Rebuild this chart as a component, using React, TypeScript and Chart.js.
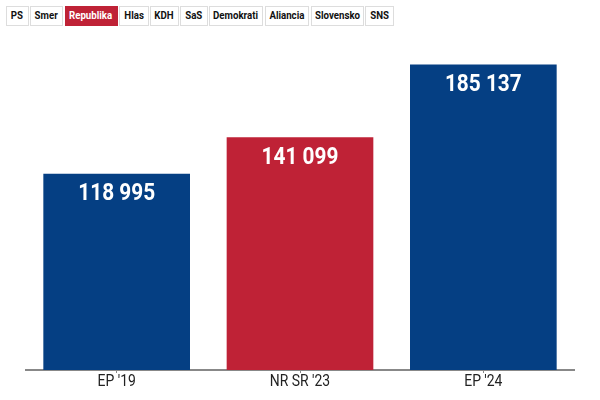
import React, { useEffect, useRef } from "react";
import { Chart, registerables } from "chart.js";

Chart.register(...registerables);

const categories = ["EP '19", "NR SR '23", "EP '24"];
const votes = [118995, 141099, 185137];
const barColors = ["#053f83", "#bf2236", "#053f83"];
const parties = ["PS", "Smer", "Republika", "Hlas", "KDH", "SaS", "Demokrati", "Aliancia", "Slovensko", "SNS"];
const activeParty = "Republika";
const buttonWidths = [22.5, 33, 53, 29.5, 28.5, 27.5, 54, 44.5, 53, 29];

const family = "Roboto";

const condensedText = {
  id: "condensedText",
  afterDatasetsDraw(chart: any) {
    const { ctx } = chart;
    const meta = chart.getDatasetMeta(0);
    meta.data.forEach((bar: any, i: number) => {
      const text = votes[i].toLocaleString("en-US").replace(/,/g, " ");
      ctx.save();
      ctx.translate(bar.x, bar.y + 20.5);
      ctx.scale(0.85, 1);
      ctx.font = `700 24.5px ${family}`;
      ctx.fillStyle = "#ffffff";
      ctx.textAlign = "center";
      ctx.textBaseline = "middle";
      ctx.fillText(text, 0, 0);
      ctx.restore();
    });
    const x = chart.scales.x;
    x.ticks.forEach((tick: any, i: number) => {
      ctx.save();
      ctx.translate(x.getPixelForTick(i), x.top + 11.5);
      ctx.scale(0.87, 1);
      ctx.font = `400 16px ${family}`;
      ctx.fillStyle = "#222222";
      ctx.textAlign = "center";
      ctx.textBaseline = "middle";
      ctx.fillText(String(tick.label), 0, 0);
      ctx.restore();
    });
  },
};

export default function App() {
  const ref = useRef<HTMLCanvasElement>(null);
  useEffect(() => {
    const chart = new Chart(ref.current!, {
      type: "bar",
      data: {
        labels: categories,
        datasets: [{ data: votes, backgroundColor: barColors, barPercentage: 0.8, categoryPercentage: 1 }],
      },
      options: {
        responsive: false,
        animation: false,
        layout: { padding: 0 },
        plugins: { legend: { display: false }, tooltip: { enabled: false } },
        scales: {
          x: {
            grid: { display: true, drawOnChartArea: false, drawTicks: true, tickLength: 3, tickColor: "#888888", offset: false },
            border: { color: "#888888", width: 2 },
            ticks: { display: false },
            afterFit(s: any) { s.height = 30; },
          },
          y: { display: false, min: 0, max: 200000 },
        },
      },
      plugins: [condensedText],
    });
    return () => chart.destroy();
  }, []);

  return (
    <div style={{ position: "absolute", left: 0, top: 0, width: 600, height: 400, background: "#fff" }}>
      <div style={{ position: "absolute", left: 6, top: 6, display: "flex", gap: 1.5 }}>
        {parties.map((p, i) => (
          <div
            key={p}
            style={{
              width: buttonWidths[i],
              height: 20,
              boxSizing: "border-box",
              border: p === activeParty ? "1.5px solid #bf2236" : "1.5px solid #dddddd",
              background: p === activeParty ? "#bf2236" : "#ffffff",
              color: p === activeParty ? "#ffffff" : "#111111",
              fontFamily: family,
              fontWeight: 700,
              fontSize: 11,
              lineHeight: "17px",
              textAlign: "center",
              whiteSpace: "nowrap",
            }}
          >
            <span style={{ display: "inline-block", transform: "scaleX(0.88)" }}>{p}</span>
          </div>
        ))}
      </div>
      <canvas ref={ref} width={550} height={360} style={{ position: "absolute", left: 25, top: 40 }} />
    </div>
  );
}
